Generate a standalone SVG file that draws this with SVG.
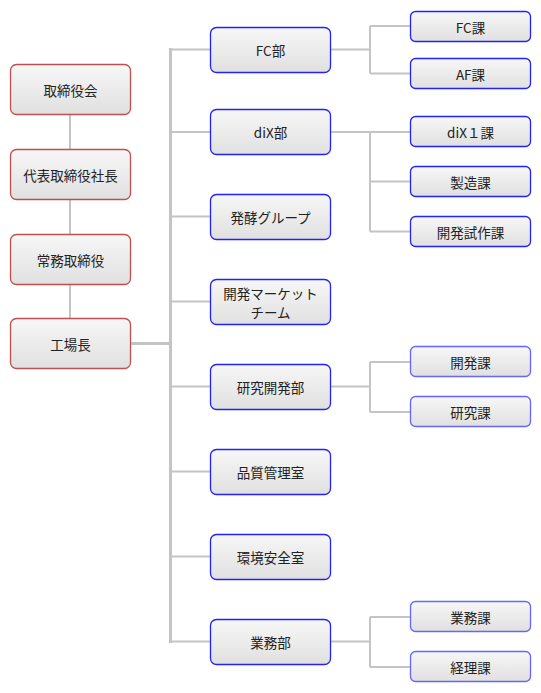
<svg xmlns="http://www.w3.org/2000/svg" width="541" height="693" viewBox="0 0 541 693">
<style>
.box{stroke-width:1.3}
.r{stroke:#c0504d}
.b{stroke:#2222ff}
.lb{stroke:#6666ff}
text{font-family:"Noto Sans CJK JP","Noto Sans",sans-serif;font-size:13.5px;fill:#222;text-anchor:middle;dominant-baseline:central}
.ln{stroke:#c4c4c4;stroke-width:2;fill:none}
.tk{stroke:#c4c4c4;stroke-width:3;fill:none}
</style>
<defs>
<linearGradient id="g" x1="0" y1="0" x2="0" y2="1">
<stop offset="0" stop-color="#f7f7f7"/>
<stop offset="1" stop-color="#e0e0e0"/>
</linearGradient>
</defs>
<rect width="541" height="693" fill="#fff"/>
<g id="connectors">
<path class="ln" d="M70 114V149M70 199V234M70 284V318"/>
<path class="tk" d="M130 343.5H170.5M170.5 48V643"/>
<path class="ln" d="M170.5 49.5H210M170.5 132H210M170.5 216.5H210M170.5 301.5H210M170.5 386.5H210M170.5 471.5H210M170.5 556.5H210M170.5 641.5H210"/>
<path class="ln" d="M330 49.5H370M370 26V73.5M370 26H410M370 73.5H410"/>
<path class="ln" d="M330 132H410M370 132V231.5M370 181.5H410M370 231.5H410"/>
<path class="ln" d="M330 386.5H370M370 362V412M370 362H410M370 412H410"/>
<path class="ln" d="M330 641.5H370M370 617V667M370 617H410M370 667H410"/>
</g>
<g id="n1"><rect class="box r" x="10.5" y="64.5" width="120" height="50" rx="6" fill="url(#g)"/><text x="70.5" y="89.5">取締役会</text></g>
<g id="n2"><rect class="box r" x="10.5" y="149.5" width="120" height="50" rx="6" fill="url(#g)"/><text x="70.5" y="174.5">代表取締役社長</text></g>
<g id="n3"><rect class="box r" x="10.5" y="234.5" width="120" height="50" rx="6" fill="url(#g)"/><text x="70.5" y="259.5">常務取締役</text></g>
<g id="n4"><rect class="box r" x="10.5" y="318.5" width="120" height="50" rx="6" fill="url(#g)"/><text x="70.5" y="343.5">工場長</text></g>
<g id="m1"><rect class="box b" x="210.5" y="27.5" width="120" height="45" rx="6" fill="url(#g)"/><text x="270.5" y="50">FC部</text></g>
<g id="m2"><rect class="box b" x="210.5" y="109.5" width="120" height="45" rx="6" fill="url(#g)"/><text x="270.5" y="132">diX部</text></g>
<g id="m3"><rect class="box b" x="210.5" y="194.5" width="120" height="45" rx="6" fill="url(#g)"/><text x="270.5" y="217">発酵グループ</text></g>
<g id="m4"><rect class="box b" x="210.5" y="279.5" width="120" height="45" rx="6" fill="url(#g)"/><text x="270.5" y="293">開発マーケット</text><text x="270.5" y="311.5">チーム</text></g>
<g id="m5"><rect class="box b" x="210.5" y="364.5" width="120" height="45" rx="6" fill="url(#g)"/><text x="270.5" y="387">研究開発部</text></g>
<g id="m6"><rect class="box b" x="210.5" y="449.5" width="120" height="45" rx="6" fill="url(#g)"/><text x="270.5" y="472">品質管理室</text></g>
<g id="m7"><rect class="box b" x="210.5" y="534.5" width="120" height="45" rx="6" fill="url(#g)"/><text x="270.5" y="557">環境安全室</text></g>
<g id="m8"><rect class="box b" x="210.5" y="619.5" width="120" height="45" rx="6" fill="url(#g)"/><text x="270.5" y="642">業務部</text></g>
<g id="s1"><rect class="box b" x="410.5" y="11.5" width="120" height="30" rx="5" fill="url(#g)"/><text x="470.5" y="26.5">FC課</text></g>
<g id="s2"><rect class="box b" x="410.5" y="58.5" width="120" height="30" rx="5" fill="url(#g)"/><text x="470.5" y="73.5">AF課</text></g>
<g id="s3"><rect class="box b" x="410.5" y="116.5" width="120" height="30" rx="5" fill="url(#g)"/><text x="470.5" y="131.5">diX１課</text></g>
<g id="s4"><rect class="box b" x="410.5" y="166.5" width="120" height="30" rx="5" fill="url(#g)"/><text x="470.5" y="181.5">製造課</text></g>
<g id="s5"><rect class="box b" x="410.5" y="216.5" width="120" height="30" rx="5" fill="url(#g)"/><text x="470.5" y="231.5">開発試作課</text></g>
<g id="s6"><rect class="box lb" x="410.5" y="346.5" width="120" height="30" rx="5" fill="url(#g)"/><text x="470.5" y="361.5">開発課</text></g>
<g id="s7"><rect class="box lb" x="410.5" y="396.5" width="120" height="30" rx="5" fill="url(#g)"/><text x="470.5" y="411.5">研究課</text></g>
<g id="s8"><rect class="box lb" x="410.5" y="601.5" width="120" height="30" rx="5" fill="url(#g)"/><text x="470.5" y="616.5">業務課</text></g>
<g id="s9"><rect class="box lb" x="410.5" y="651.5" width="120" height="30" rx="5" fill="url(#g)"/><text x="470.5" y="666.5">経理課</text></g>
</svg>
